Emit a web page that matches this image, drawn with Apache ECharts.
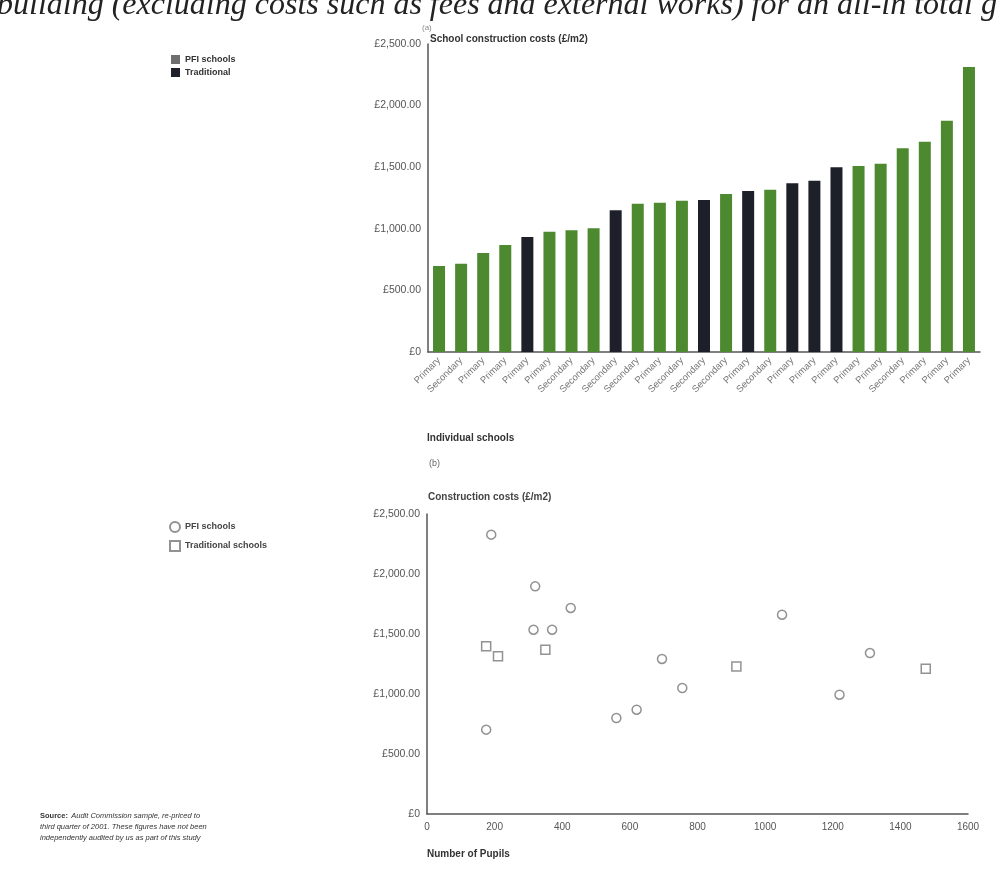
<!DOCTYPE html>
<html>
<head>
<meta charset="utf-8">
<script src="https://cdn.jsdelivr.net/npm/echarts@6/dist/echarts.min.js"></script>
<style>
html,body{margin:0;padding:0;background:#fff;}
#c{width:1007px;height:870px;}
</style>
</head>
<body>
<div id="c"></div>
<script>
// ---- Data: bar chart (a) ----
const schoolTypes = ['Primary','Secondary','Primary','Primary','Primary','Primary','Secondary','Secondary','Secondary','Secondary','Primary','Secondary','Secondary','Secondary','Primary','Secondary','Primary','Primary','Primary','Primary','Primary','Secondary','Primary','Primary','Primary'];
const schoolCosts = [699,716,803,868,933,977,988,1004,1151,1203,1211,1227,1233,1282,1306,1317,1369,1390,1499,1510,1529,1654,1706,1878,2313];
const procurement = ['PFI','PFI','PFI','PFI','Trad','PFI','PFI','PFI','Trad','PFI','PFI','PFI','Trad','PFI','Trad','PFI','Trad','Trad','Trad','PFI','PFI','PFI','PFI','PFI','PFI'];

// ---- Data: scatter chart (b) ----
const pfiPupils = [190,320,425,315,370,695,560,620,175,1050,755,1220,1310];
const pfiCosts  = [2328,1897,1717,1536,1536,1292,800,869,703,1661,1050,994,1341];
const tradPupils = [175,210,350,915,1475];
const tradCosts  = [1397,1314,1369,1230,1211];

const costTicks = [0,500,1000,1500,2000,2500];
const pupilTicks = [0,200,400,600,800,1000,1200,1400,1600];

const FONT = '"Liberation Sans", Arial, sans-serif';
const GREEN = '#4d8a2f', DARK = '#1d2028';

function money(v){
  if (v === 0) return '£0';
  return '£' + v.toLocaleString('en-GB',{minimumFractionDigits:2,maximumFractionDigits:2});
}

const pfiBars = schoolCosts.map((v,i)=> procurement[i]==='PFI' ? v : '-');
const tradBars = schoolCosts.map((v,i)=> procurement[i]==='Trad' ? v : '-');

const axisLine = {show:true, lineStyle:{color:'#555', width:1.5}};
const axisLabelY = {color:'#555', fontSize:10.5, fontFamily:FONT, margin:7, formatter:money};

const chart = echarts.init(document.getElementById('c'), null, {renderer:'canvas'});
chart.setOption({
  backgroundColor:'#fff',
  animation:false,
  textStyle:{fontFamily:FONT},
  legend:[
    {data:[{name:'PFI schools', icon:'rect', itemStyle:{color:'#6e6e6e'}}, {name:'Traditional', icon:'rect'}],
     orient:'vertical', left:166, top:50, itemWidth:9, itemHeight:9, itemGap:4,
     textStyle:{fontSize:9, fontWeight:'bold', color:'#333', fontFamily:FONT}},
    {data:['PFI schools ', 'Traditional schools'],
     orient:'vertical', left:164, top:516, itemWidth:10, itemHeight:10, itemGap:7,
     textStyle:{fontSize:9, fontWeight:'bold', color:'#444', fontFamily:FONT}}
  ],
  grid:[
    {left:428, right:27, top:44, bottom:518},
    {left:427, right:39, top:514, bottom:56}
  ],
  xAxis:[
    {type:'category', gridIndex:0, data:schoolTypes, axisLine:axisLine, axisTick:{show:false},
     axisLabel:{rotate:45, fontSize:9.5, color:'#777', fontFamily:FONT, margin:7, interval:0}},
    {type:'value', gridIndex:1, min:0, max:1600, interval:200, axisLine:axisLine, axisTick:{show:false},
     splitLine:{show:false},
     axisLabel:{fontSize:10, color:'#555', fontFamily:FONT, margin:8, formatter:v=>String(v)}}
  ],
  yAxis:[
    {type:'value', gridIndex:0, min:0, max:2500, interval:500, axisLine:axisLine, axisTick:{show:false},
     splitLine:{show:false}, axisLabel:axisLabelY},
    {type:'value', gridIndex:1, min:0, max:2500, interval:500, axisLine:axisLine, axisTick:{show:false},
     splitLine:{show:false}, axisLabel:axisLabelY}
  ],
  series:[
    {name:'PFI schools', type:'bar', xAxisIndex:0, yAxisIndex:0, stack:'s', data:pfiBars, barWidth:12,
     itemStyle:{color:GREEN}},
    {name:'Traditional', type:'bar', xAxisIndex:0, yAxisIndex:0, stack:'s', data:tradBars, barWidth:12,
     itemStyle:{color:DARK}},
    {name:'PFI schools ', type:'scatter', xAxisIndex:1, yAxisIndex:1, symbol:'circle', symbolSize:9,
     data:pfiPupils.map((p,i)=>[p,pfiCosts[i]]),
     itemStyle:{color:'#fff', borderColor:'#777', borderWidth:1.5}},
    {name:'Traditional schools', type:'scatter', xAxisIndex:1, yAxisIndex:1, symbol:'rect', symbolSize:9,
     data:tradPupils.map((p,i)=>[p,tradCosts[i]]),
     itemStyle:{color:'#fff', borderColor:'#777', borderWidth:1.5}}
  ],
  graphic:[
    {type:'text', left:-3, top:-10, style:{text:'building (excluding costs such as fees and external works) for an all-in total g',
      font:'italic 32px "Liberation Serif", "DejaVu Serif", serif', fill:'#222'}},
    {type:'text', left:422, top:24, style:{text:'(a)', font:'8px '+FONT, fill:'#888'}},
    {type:'text', left:430, top:34, style:{text:'School construction costs (£/m2)', font:'bold 10px '+FONT, fill:'#333'}},
    {type:'text', left:427, top:433, style:{text:'Individual schools', font:'bold 10px '+FONT, fill:'#333'}},
    {type:'text', left:429, top:459, style:{text:'(b)', font:'9px '+FONT, fill:'#666'}},
    {type:'text', left:428, top:492, style:{text:'Construction costs (£/m2)', font:'bold 10px '+FONT, fill:'#444'}},
    {type:'text', left:427, top:849, style:{text:'Number of Pupils', font:'bold 10px '+FONT, fill:'#333'}},
    {type:'text', left:40, top:810, style:{
      rich:{b:{font:'bold 7.5px '+FONT, fill:'#333'}, i:{font:'italic 7.5px '+FONT, fill:'#333'}},
      text:'{b|Source:} {i|Audit Commission sample, re-priced to}\n{i|third quarter of 2001. These figures have not been}\n{i|independently audited by us as part of this study}',
      lineHeight:11}}
  ]
});
</script>
</body>
</html>
